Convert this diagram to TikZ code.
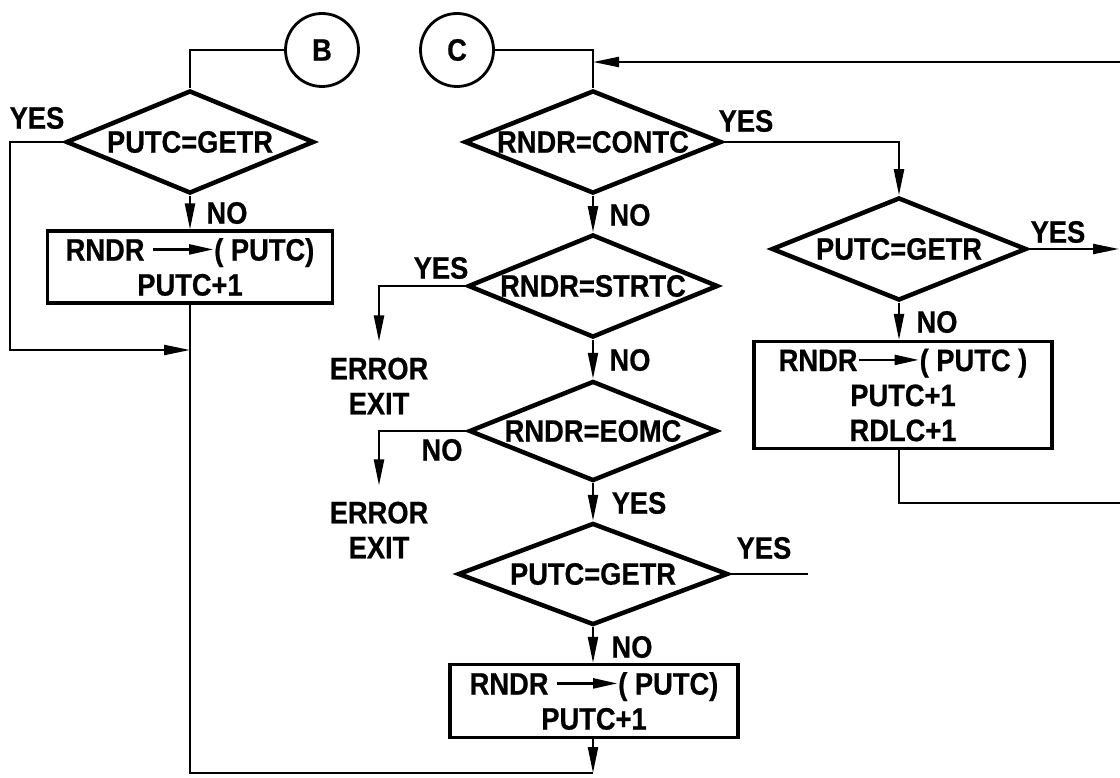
\documentclass[tikz,border=0pt]{standalone}
\usepackage{fontspec}
\setmainfont{Liberation Sans}[FakeStretch=0.88,FakeBold=0.6]
\usetikzlibrary{shapes.geometric,arrows.meta}
\newcommand{\boxarrow}{\tikz[baseline=-0.36em]\draw[line width=2.2pt,-{Triangle[length=24pt,width=10pt]}] (0pt,0pt) -- (60pt,0pt);}
\begin{document}
\begin{tikzpicture}[x=1pt,y=-1pt,
  txt/.style={font=\fontsize{31}{35}\selectfont\bfseries},
  dec/.style={txt,draw,shape=diamond,line width=4.5pt,inner sep=0pt,aspect=2.5,minimum width=#1,minimum height=103pt},
  proc/.style={txt,draw,rectangle,line width=3.2pt,inner sep=0pt,align=center,minimum width=#1},
  circ/.style={txt,draw,circle,line width=2.8pt,minimum size=73pt,inner sep=0pt},
  lbl/.style={txt,inner sep=0pt},
  errnode/.style={txt,align=center,inner xsep=0pt,inner ysep=16pt},
  conn/.style={line width=2.2pt},
  arr/.style={conn,-{Triangle[length=26pt,width=10pt]}}]
\useasboundingbox (0,0) rectangle (1120,778);

% connectors B and C
\node[circ] (B) at (322,50) {B};
\node[circ] (C) at (457,50) {C};

% left column
\node[dec=248pt] (d1) at (190,142) {PUTC=GETR};
\node[proc=285pt,minimum height=72pt] (box1) at (190,267) {RNDR \boxarrow( PUTC)\\PUTC+1};

% middle column
\node[dec=257pt] (d2) at (593,142) {RNDR=CONTC};
\node[dec=250pt] (d3) at (593,286) {RNDR=STRTC};
\node[dec=248pt,minimum height=100pt] (d5) at (593,431) {RNDR=EOMC};
\node[dec=270pt,minimum height=102pt] (d6) at (593,574) {PUTC=GETR};
\node[proc=288pt,minimum height=73pt] (box3) at (594,701) {RNDR \boxarrow( PUTC)\\PUTC+1};

% right column
\node[dec=255pt] (d4) at (899,249) {PUTC=GETR};
\node[proc=298pt,minimum height=107pt] (box2) at (903,395) {RNDR\boxarrow( PUTC )\\PUTC+1\\RDLC+1};

% error exits
\node[errnode] (err1) at (379,386) {ERROR\\EXIT};
\node[errnode] (err2) at (379,530) {ERROR\\EXIT};

% free ends
\coordinate (c1) at (10,142);
\coordinate (c2) at (190,350);
\coordinate (bl) at (190,773);
\coordinate (bj) at (593,773);
\coordinate (eTop) at (1120,62);
\coordinate (jTop) at (593,62);
\coordinate (e4) at (1119,249);
\coordinate (e5) at (1120,503);
\coordinate (y6) at (808,574);

% left flow
\draw[conn] (B.west) -| (d1.north);
\draw[arr] (d1.west) -- (c1) |- (c2);
\draw[arr] (d1.south) -- (box1.north);
\draw[conn] (box1.south) -- (bl) -- (bj);
\draw[arr] (box3.south -| bj) -- (bj);

% middle flow
\draw[conn] (C.east) -| (d2.north);
\draw[arr] (eTop) -- (jTop);
\draw[arr] (d2.south) -- (d3.north);
\draw[arr] (d3.west) -| (err1.north);
\draw[arr] (d3.south) -- (d5.north);
\draw[arr] (d5.west) -| (err2.north);
\draw[arr] (d5.south) -- (d6.north);
\draw[conn] (d6.east) -- (y6);
\draw[arr] (d6.south) -- (d6.south |- box3.north);

% right flow
\draw[arr] (d2.east) -| (d4.north);
\draw[arr] (d4.east) -- (e4);
\draw[arr] (d4.south) -- (d4.south |- box2.north);
\draw[conn] (d4.south |- box2.south) |- (e5);

% labels
\node[lbl] at (37,118) {YES};
\node[lbl] at (227,213) {NO};
\node[lbl] at (746,121) {YES};
\node[lbl] at (630,215) {NO};
\node[lbl] at (441,268) {YES};
\node[lbl] at (630,360) {NO};
\node[lbl] at (442,450) {NO};
\node[lbl] at (639,503) {YES};
\node[lbl] at (764,548) {YES};
\node[lbl] at (632,647) {NO};
\node[lbl] at (1058,232) {YES};
\node[lbl] at (937,322) {NO};
\end{tikzpicture}
\end{document}
